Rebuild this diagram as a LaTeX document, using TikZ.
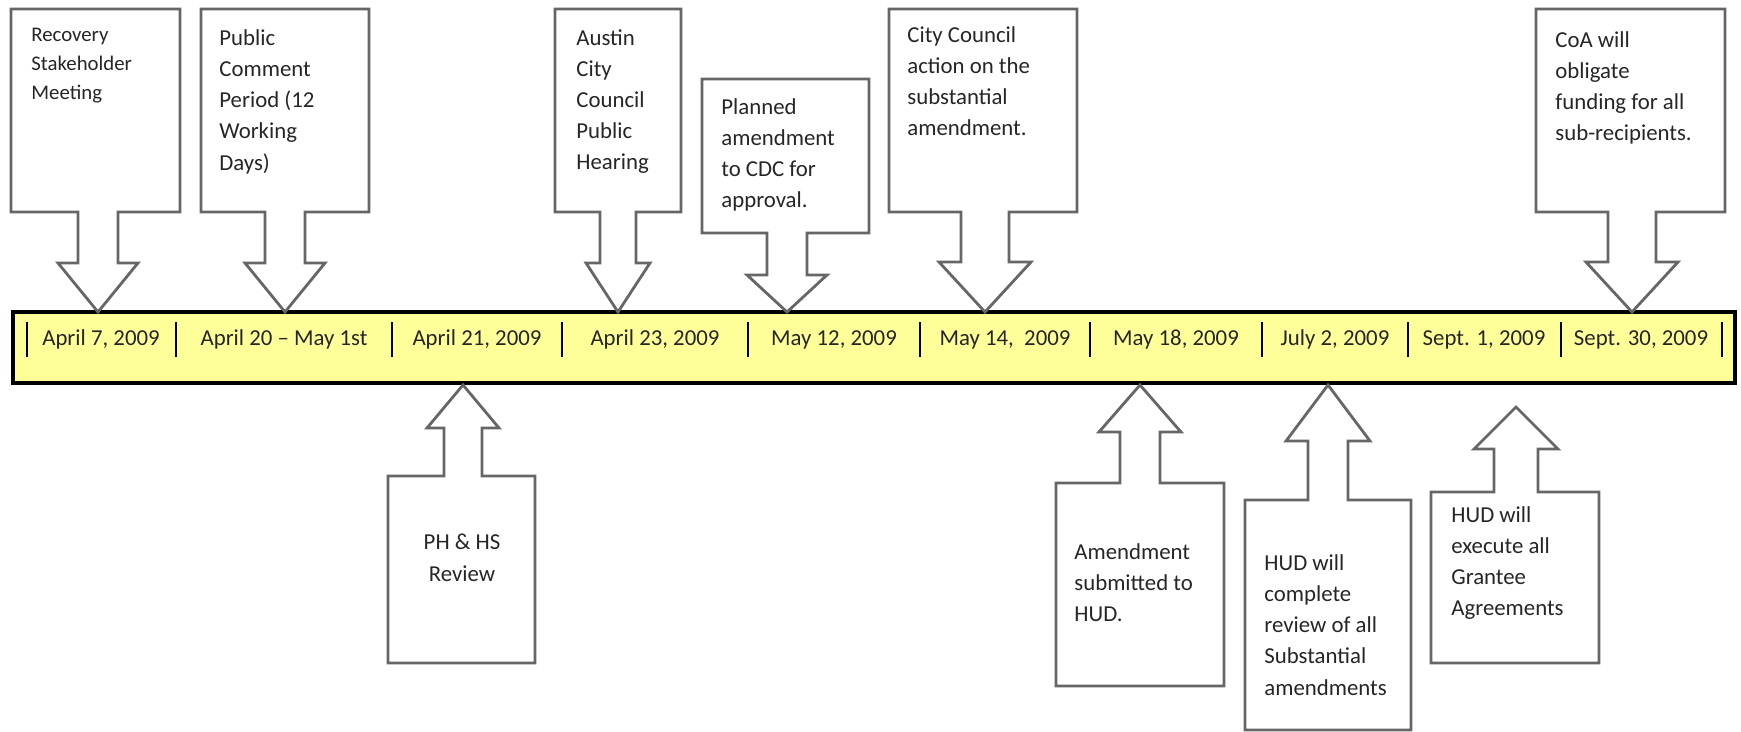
\documentclass[tikz,border=0pt]{standalone}
\usepackage{fontspec}
\setmainfont{Carlito}
\definecolor{barfill}{RGB}{255,255,153}
\tikzset{
  callout/.style={draw=black!60, line width=1.4pt, fill=white, line join=miter},
  note/.style={anchor=north west, align=left, inner sep=0pt, text=black!85,
    font=\fontsize{11.4}{15.6}\selectfont},
  datelabel/.style={anchor=base, inner sep=0pt, text=black!85,
    font=\fontsize{11.4}{14}\selectfont},
  tick/.style={line width=1.2pt}
}
\begin{document}
\begin{tikzpicture}[x=0.5pt,y=-0.5pt]
        \useasboundingbox (0,0) rectangle (1741,732);

        % timeline bar
        \node (bar) [draw, line width=1.7pt, fill=barfill, minimum width=861pt, minimum height=35.5pt, inner sep=0pt] at (874,347.5) {};
        \draw [tick] (27,322) -- (27,357);
        \draw [tick] (176,322) -- (176,357);
        \draw [tick] (392,322) -- (392,357);
        \draw [tick] (562,322) -- (562,357);
        \draw [tick] (748,322) -- (748,357);
        \draw [tick] (920,322) -- (920,357);
        \draw [tick] (1090,322) -- (1090,357);
        \draw [tick] (1262,322) -- (1262,357);
        \draw [tick] (1408,322) -- (1408,357);
        \draw [tick] (1561,322) -- (1561,357);
        \draw [tick] (1722,322) -- (1722,357);

        \node [datelabel] (d1) at (101,346) {April 7, 2009};
        \node [datelabel] (d2) at (284,346) {April 20 -- May 1st};
        \node [datelabel] (d3) at (477,346) {April 21, 2009};
        \node [datelabel] (d4) at (655,346) {April 23, 2009};
        \node [datelabel] (d5) at (834,346) {May 12, 2009};
        \node [datelabel] (d6) at (1005,346) {May 14,\ \ 2009};
        \node [datelabel] (d7) at (1176,346) {May 18, 2009};
        \node [datelabel] (d8) at (1335,346) {July 2, 2009};
        \node [datelabel] (d9) at (1484,346) {Sept. 1, 2009};
        \node [datelabel] (d10) at (1641,346) {Sept. 30, 2009};

        % callouts above the bar
        \draw [callout] (11,9) -- (180,9) -- (180,212) -- (118,212) -- (118,263) -- (138,263) -- (98,312) -- (58,263) -- (78,263) -- (78,212) -- (11,212) -- cycle;
        \draw [callout] (201,9) -- (369,9) -- (369,212) -- (305,212) -- (305,263) -- (325,263) -- (285,312) -- (245,263) -- (265,263) -- (265,212) -- (201,212) -- cycle;
        \draw [callout] (555,9) -- (681,9) -- (681,212) -- (636,212) -- (636,263) -- (650,263) -- (618,312) -- (586,263) -- (600,263) -- (600,212) -- (555,212) -- cycle;
        \draw [callout] (702,79) -- (869,79) -- (869,233) -- (807,233) -- (807,275) -- (827,275) -- (787,312) -- (747,275) -- (767,275) -- (767,233) -- (702,233) -- cycle;
        \draw [callout] (889,9) -- (1077,9) -- (1077,212) -- (1009,212) -- (1009,262) -- (1031,262) -- (985,312) -- (939,262) -- (961,262) -- (961,212) -- (889,212) -- cycle;
        \draw [callout] (1536,9) -- (1725,9) -- (1725,212) -- (1656,212) -- (1656,262) -- (1678,262) -- (1632,312) -- (1586,262) -- (1608,262) -- (1608,212) -- (1536,212) -- cycle;

        \node [note, font=\fontsize{10.4}{14.5}\selectfont] (recovery) at (31,28) {Recovery\\Stakeholder\\Meeting};
        \node [note] (comment) at (219,29) {Public\\Comment\\Period (12\\Working\\Days)};
        \node [note] (hearing) at (576,29) {Austin\\City\\Council\\Public\\Hearing};
        \node [note] (planned) at (721,98) {Planned\\amendment\\to CDC for\\approval.};
        \node [note] (action) at (907,26) {City Council\\action on the\\substantial\\amendment.};
        \node [note] (obligate) at (1555,31) {CoA will\\obligate\\funding for all\\sub-recipients.};

        % callouts below the bar
        \draw [callout] (388,663) -- (388,476) -- (444,476) -- (444,428) -- (427,428) -- (463,385) -- (499,428) -- (482,428) -- (482,476) -- (535,476) -- (535,663) -- cycle;
        \draw [callout] (1056,686) -- (1056,483) -- (1120,483) -- (1120,432) -- (1099,432) -- (1140,385) -- (1181,432) -- (1160,432) -- (1160,483) -- (1224,483) -- (1224,686) -- cycle;
        \draw [callout] (1245,730) -- (1245,500) -- (1308,500) -- (1308,441) -- (1286,441) -- (1328,385) -- (1370,441) -- (1348,441) -- (1348,500) -- (1411,500) -- (1411,730) -- cycle;
        \draw [callout] (1431,663) -- (1431,492) -- (1494,492) -- (1494,449) -- (1474,449) -- (1516,407) -- (1558,449) -- (1538,449) -- (1538,492) -- (1599,492) -- (1599,663) -- cycle;

        \node [note, anchor=north, align=center] (review) at (462,534) {PH \& HS\\Review};
        \node [note] (submitted) at (1074,543) {Amendment\\submitted to\\HUD.};
        \node [note] (complete) at (1264,554) {HUD will\\complete\\review of all\\Substantial\\amendments};
        \node [note] (execute) at (1451,506) {HUD will\\execute all\\Grantee\\Agreements};
    \end{tikzpicture}
\end{document}
